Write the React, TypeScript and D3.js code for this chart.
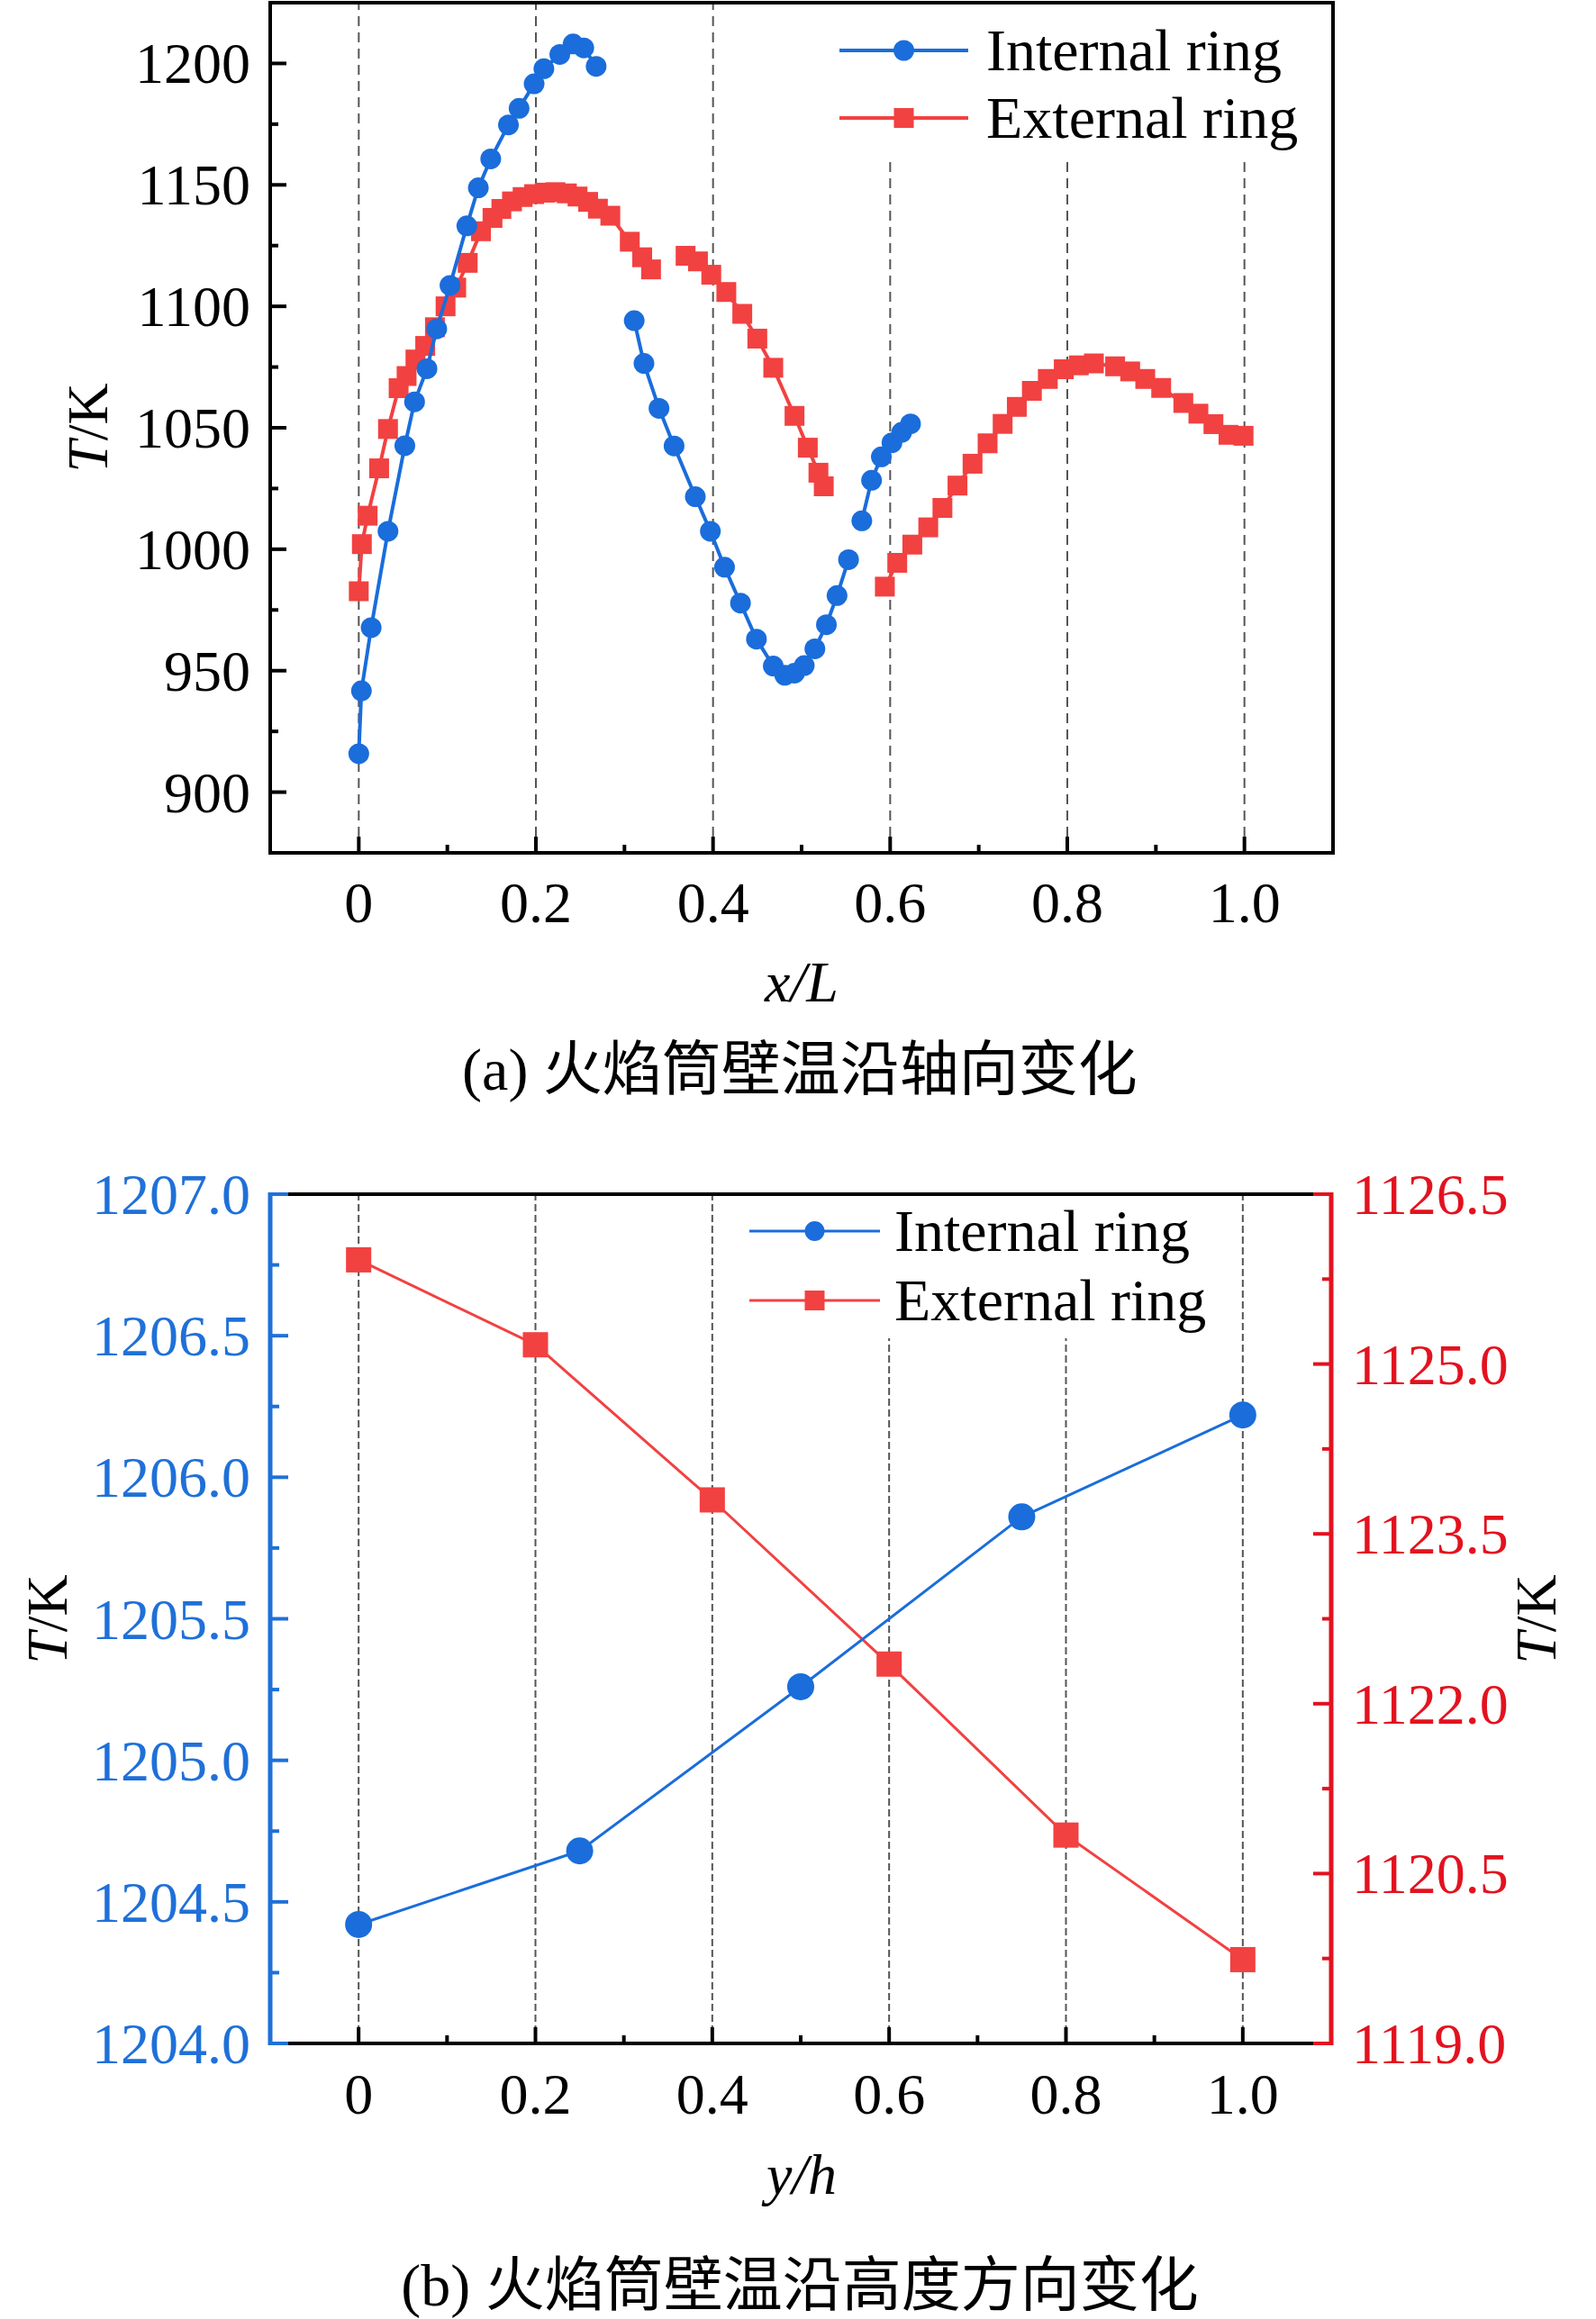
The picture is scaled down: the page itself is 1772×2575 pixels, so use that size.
import React, { useEffect, useRef } from 'react';
import * as d3 from 'd3';

// (a) wall temperature along the axis, NaN = break in the curve
const axialInternalX = [0.000, 0.003, 0.014, 0.033, 0.052, 0.063, 0.077, 0.088, 0.103, 0.122, 0.135, 0.149, 0.169, 0.181, 0.198, 0.209, 0.227, 0.242, 0.254, 0.268, NaN, 0.311, 0.322, 0.339, 0.356, 0.380, 0.397, 0.413, 0.431, 0.449, 0.468, 0.481, 0.492, 0.503, 0.515, 0.528, 0.540, 0.553, NaN, 0.568, 0.579, 0.590, 0.602, 0.613, 0.623];
const axialInternalT = [915.8, 941.7, 967.7, 1007.4, 1042.6, 1060.7, 1074.3, 1090.7, 1108.6, 1133.1, 1148.8, 1160.7, 1174.7, 1181.5, 1191.6, 1197.8, 1203.7, 1208.0, 1206.4, 1198.8, NaN, 1094.1, 1076.5, 1058.0, 1042.5, 1021.6, 1007.4, 992.6, 977.8, 963.0, 951.9, 948.1, 949.0, 952.1, 959.0, 968.9, 980.9, 995.7, NaN, 1011.7, 1028.4, 1038.0, 1043.8, 1048.1, 1051.6];

const axialExternalX = [0.000, 0.0035, 0.010, 0.023, 0.033, 0.045, 0.054, 0.064, 0.075, 0.086, 0.098, 0.110, 0.123, 0.138, 0.151, 0.161, 0.173, 0.185, 0.198, 0.210, 0.222, 0.235, 0.247, 0.259, 0.270, 0.284, 0.306, 0.320, 0.330, NaN, 0.369, 0.383, 0.398, 0.415, 0.433, 0.450, 0.468, 0.492, 0.507, 0.519, 0.525, NaN, 0.594, 0.608, 0.625, 0.643, 0.659, 0.676, 0.693, 0.710, 0.727, 0.743, 0.760, 0.778, 0.796, 0.813, 0.830, 0.854, 0.871, 0.888, 0.906, 0.931, 0.948, 0.965, 0.982, 0.999];
const axialExternalT = [982.7, 1002.1, 1013.8, 1033.3, 1049.5, 1066.3, 1071.3, 1078.1, 1083.7, 1091.4, 1100.0, 1107.7, 1117.9, 1130.9, 1136.4, 1140.1, 1143.2, 1145.0, 1146.2, 1146.8, 1147.0, 1146.5, 1145.2, 1143.0, 1140.2, 1137.3, 1126.6, 1120.2, 1115.2, NaN, 1120.8, 1118.5, 1113.0, 1105.9, 1096.9, 1086.7, 1074.7, 1054.9, 1041.8, 1031.5, 1025.9, NaN, 984.6, 994.4, 1001.9, 1009.0, 1017.0, 1026.2, 1035.2, 1043.6, 1051.6, 1058.6, 1065.2, 1070.1, 1074.1, 1075.7, 1076.5, 1075.3, 1073.2, 1070.1, 1066.4, 1060.2, 1055.8, 1051.5, 1047.1, 1046.7];

// (b) wall temperature along the height
const heightInternalY = [0, 0.25, 0.5, 0.75, 1.0];
const heightInternalT = [1204.42, 1204.68, 1205.26, 1205.86, 1206.22];
const heightExternalY = [0, 0.2, 0.4, 0.6, 0.8, 1.0];
const heightExternalT = [1125.92, 1125.17, 1123.80, 1122.35, 1120.84, 1119.74];

const seriesNames = ['Internal ring', 'External ring'];
const xTicks = [0, 0.2, 0.4, 0.6, 0.8, 1.0];
const xTickLabels = ['0', '0.2', '0.4', '0.6', '0.8', '1.0'];
const xMinorTicks = [0.1, 0.3, 0.5, 0.7, 0.9];
const topTTicks = [900, 950, 1000, 1050, 1100, 1150, 1200];
const topTMinor = [925, 975, 1025, 1075, 1125, 1175];
const leftTTicks = [1204.0, 1204.5, 1205.0, 1205.5, 1206.0, 1206.5, 1207.0];
const leftTMinor = [1204.25, 1204.75, 1205.25, 1205.75, 1206.25, 1206.75];
const rightTTicks = [1119.0, 1120.5, 1122.0, 1123.5, 1125.0, 1126.5];
const rightTMinor = [1119.75, 1121.25, 1122.75, 1124.25, 1125.75];

const BLUE = '#1a6ddb';
const RED = '#f24141';
const AXIS_BLUE = '#1f70d8';
const AXIS_RED = '#e3121f';
const GRID = '#555';
const SERIF = '"Liberation Serif", "Times New Roman", serif';
const CAPTION_FONT = '"Liberation Serif", "Noto Sans CJK SC", serif';

export default function App() {
  const svgRef = useRef<SVGSVGElement>(null);

  useEffect(() => {
    if (!svgRef.current) return;
    const svg = d3.select(svgRef.current);
    svg.selectAll('*').remove();

    svg.append('rect').attr('width', 1772).attr('height', 2575).attr('fill', '#fff');

    const zip = (xs: number[], ys: number[]) => xs.map((v, i) => [v, ys[i]] as [number, number]);

    const drawSeries = (g: any, x: any, y: any, pts: [number, number][], color: string, shape: string, size: number, width: number) => {
      const line = d3.line<[number, number]>()
        .defined(d => !isNaN(d[0]) && !isNaN(d[1]))
        .x(d => x(d[0]))
        .y(d => y(d[1]));
      g.append('path')
        .attr('d', line(pts))
        .attr('fill', 'none')
        .attr('stroke', color)
        .attr('stroke-width', width)
        .attr('stroke-linejoin', 'round');
      const valid = pts.filter(d => !isNaN(d[0]) && !isNaN(d[1]));
      if (shape === 'circle') {
        g.selectAll(null).data(valid).enter().append('circle')
          .attr('cx', (d: any) => x(d[0]))
          .attr('cy', (d: any) => y(d[1]))
          .attr('r', size)
          .attr('fill', color);
      } else {
        g.selectAll(null).data(valid).enter().append('rect')
          .attr('x', (d: any) => x(d[0]) - size / 2)
          .attr('y', (d: any) => y(d[1]) - size / 2)
          .attr('width', size)
          .attr('height', size)
          .attr('fill', color);
      }
    };

    const drawLegend = (g: any, x0: number, x1: number, rows: number[], textX: number, markR: number, markS: number, width: number) => {
      const mid = (x0 + x1) / 2;
      [BLUE, RED].forEach((c, i) => {
        g.append('line').attr('x1', x0).attr('x2', x1).attr('y1', rows[i]).attr('y2', rows[i])
          .attr('stroke', c).attr('stroke-width', width);
        if (i === 0) {
          g.append('circle').attr('cx', mid).attr('cy', rows[i]).attr('r', markR).attr('fill', c);
        } else {
          g.append('rect').attr('x', mid - markS / 2).attr('y', rows[i] - markS / 2)
            .attr('width', markS).attr('height', markS).attr('fill', c);
        }
        g.append('text').attr('x', textX).attr('y', rows[i] + 22)
          .style('font-family', SERIF).style('font-size', '66px').attr('fill', '#000')
          .text(seriesNames[i]);
      });
    };

    const tLabel = (g: any, cx: number, cy: number) => {
      const t = g.append('text')
        .attr('transform', `translate(${cx},${cy}) rotate(-90)`)
        .attr('text-anchor', 'middle')
        .attr('dy', '0.35em')
        .style('font-family', SERIF)
        .style('font-size', '64px')
        .attr('fill', '#000');
      t.append('tspan').style('font-style', 'italic').text('T');
      t.append('tspan').text('/K');
    };

    // ---------- (a) axial ----------
    const xa = d3.scaleLinear().domain([-0.1, 1.1]).range([300, 1480]);
    const ya = d3.scaleLinear().domain([875, 1225]).range([947, 3]);
    const ga = svg.append('g');

    ga.selectAll(null).data(xTicks).enter().append('line')
      .attr('x1', d => xa(d)).attr('x2', d => xa(d))
      .attr('y1', ya(875)).attr('y2', ya(1225))
      .attr('stroke', GRID).attr('stroke-width', 2).attr('stroke-dasharray', '11,7');
    ga.append('rect').attr('x', 925).attr('y', 5).attr('width', 552).attr('height', 173).attr('fill', '#fff');

    drawSeries(ga, xa, ya, zip(axialExternalX, axialExternalT), RED, 'square', 22, 4);
    drawSeries(ga, xa, ya, zip(axialInternalX, axialInternalT), BLUE, 'circle', 11.5, 4);

    // frame
    ga.append('rect').attr('x', 300).attr('y', 3).attr('width', 1180).attr('height', 944)
      .attr('fill', 'none').attr('stroke', '#000').attr('stroke-width', 4);

    // ticks (inward)
    ga.selectAll(null).data(topTTicks).enter().append('line')
      .attr('x1', 300).attr('x2', 318).attr('y1', d => ya(d)).attr('y2', d => ya(d))
      .attr('stroke', '#000').attr('stroke-width', 4);
    ga.selectAll(null).data(topTMinor).enter().append('line')
      .attr('x1', 300).attr('x2', 309).attr('y1', d => ya(d)).attr('y2', d => ya(d))
      .attr('stroke', '#000').attr('stroke-width', 4);
    ga.selectAll(null).data(xTicks).enter().append('line')
      .attr('x1', d => xa(d)).attr('x2', d => xa(d)).attr('y1', 947).attr('y2', 929)
      .attr('stroke', '#000').attr('stroke-width', 4);
    ga.selectAll(null).data(xMinorTicks).enter().append('line')
      .attr('x1', d => xa(d)).attr('x2', d => xa(d)).attr('y1', 947).attr('y2', 938)
      .attr('stroke', '#000').attr('stroke-width', 4);

    ga.selectAll(null).data(topTTicks).enter().append('text')
      .attr('x', 278).attr('y', d => ya(d) + 22).attr('text-anchor', 'end')
      .style('font-family', SERIF).style('font-size', '64px').attr('fill', '#000')
      .text(d => String(d));
    ga.selectAll(null).data(xTicks).enter().append('text')
      .attr('x', d => xa(d)).attr('y', 1024).attr('text-anchor', 'middle')
      .style('font-family', SERIF).style('font-size', '64px').attr('fill', '#000')
      .text((d, i) => xTickLabels[i]);

    ga.append('text').attr('x', 890).attr('y', 1112).attr('text-anchor', 'middle')
      .style('font-family', SERIF).style('font-size', '64px').style('font-style', 'italic')
      .attr('fill', '#000').text('x/L');
    tLabel(ga, 97, 475);

    drawLegend(ga, 932, 1075, [56, 131], 1095, 11.5, 22, 4);

    ga.append('text').attr('x', 888).attr('y', 1210).attr('text-anchor', 'middle')
      .style('font-family', CAPTION_FONT).style('font-size', '66px').attr('fill', '#000')
      .text('(a) 火焰筒壁温沿轴向变化');

    // ---------- (b) height ----------
    const xb = d3.scaleLinear().domain([-0.1, 1.1]).range([300, 1478]);
    const yl = d3.scaleLinear().domain([1204, 1207]).range([2269, 1326]);
    const yr = d3.scaleLinear().domain([1119, 1126.5]).range([2269, 1326]);
    const gb = svg.append('g');

    gb.selectAll(null).data(xTicks).enter().append('line')
      .attr('x1', d => xb(d)).attr('x2', d => xb(d))
      .attr('y1', 2269).attr('y2', 1326)
      .attr('stroke', GRID).attr('stroke-width', 2).attr('stroke-dasharray', '8,4');
    gb.append('rect').attr('x', 820).attr('y', 1328).attr('width', 532).attr('height', 158).attr('fill', '#fff');

    drawSeries(gb, xb, yr, zip(heightExternalY, heightExternalT), RED, 'square', 28, 3);
    drawSeries(gb, xb, yl, zip(heightInternalY, heightInternalT), BLUE, 'circle', 15, 3);

    gb.append('line').attr('x1', 300).attr('x2', 1478).attr('y1', 1326).attr('y2', 1326)
      .attr('stroke', '#000').attr('stroke-width', 4);
    gb.append('line').attr('x1', 300).attr('x2', 1478).attr('y1', 2269).attr('y2', 2269)
      .attr('stroke', '#000').attr('stroke-width', 4);
    gb.append('line').attr('x1', 300).attr('x2', 300).attr('y1', 1324).attr('y2', 2271)
      .attr('stroke', AXIS_BLUE).attr('stroke-width', 5);
    gb.append('line').attr('x1', 1478).attr('x2', 1478).attr('y1', 1324).attr('y2', 2271)
      .attr('stroke', AXIS_RED).attr('stroke-width', 5);

    gb.selectAll(null).data(leftTTicks).enter().append('line')
      .attr('x1', 300).attr('x2', 320).attr('y1', d => yl(d)).attr('y2', d => yl(d))
      .attr('stroke', AXIS_BLUE).attr('stroke-width', 4);
    gb.selectAll(null).data(leftTMinor).enter().append('line')
      .attr('x1', 300).attr('x2', 310).attr('y1', d => yl(d)).attr('y2', d => yl(d))
      .attr('stroke', AXIS_BLUE).attr('stroke-width', 4);
    gb.selectAll(null).data(rightTTicks).enter().append('line')
      .attr('x1', 1478).attr('x2', 1458).attr('y1', d => yr(d)).attr('y2', d => yr(d))
      .attr('stroke', AXIS_RED).attr('stroke-width', 4);
    gb.selectAll(null).data(rightTMinor).enter().append('line')
      .attr('x1', 1478).attr('x2', 1468).attr('y1', d => yr(d)).attr('y2', d => yr(d))
      .attr('stroke', AXIS_RED).attr('stroke-width', 4);
    gb.selectAll(null).data(xTicks).enter().append('line')
      .attr('x1', d => xb(d)).attr('x2', d => xb(d)).attr('y1', 2269).attr('y2', 2251)
      .attr('stroke', '#000').attr('stroke-width', 4);
    gb.selectAll(null).data(xMinorTicks).enter().append('line')
      .attr('x1', d => xb(d)).attr('x2', d => xb(d)).attr('y1', 2269).attr('y2', 2260)
      .attr('stroke', '#000').attr('stroke-width', 4);

    gb.selectAll(null).data(leftTTicks).enter().append('text')
      .attr('x', 278).attr('y', d => yl(d) + 22).attr('text-anchor', 'end')
      .style('font-family', SERIF).style('font-size', '64px').attr('fill', AXIS_BLUE)
      .text(d => d.toFixed(1));
    gb.selectAll(null).data(rightTTicks).enter().append('text')
      .attr('x', 1501).attr('y', d => yr(d) + 22).attr('text-anchor', 'start')
      .style('font-family', SERIF).style('font-size', '64px').attr('fill', AXIS_RED)
      .text(d => d.toFixed(1));
    gb.selectAll(null).data(xTicks).enter().append('text')
      .attr('x', d => xb(d)).attr('y', 2347).attr('text-anchor', 'middle')
      .style('font-family', SERIF).style('font-size', '64px').attr('fill', '#000')
      .text((d, i) => xTickLabels[i]);

    gb.append('text').attr('x', 890).attr('y', 2436).attr('text-anchor', 'middle')
      .style('font-family', SERIF).style('font-size', '64px').style('font-style', 'italic')
      .attr('fill', '#000').text('y/h');
    tLabel(gb, 52, 1798);
    tLabel(gb, 1705, 1798);

    drawLegend(gb, 832, 977, [1367, 1444], 993, 11, 22, 3);

    gb.append('text').attr('x', 888).attr('y', 2560).attr('text-anchor', 'middle')
      .style('font-family', CAPTION_FONT).style('font-size', '66px').attr('fill', '#000')
      .text('(b) 火焰筒壁温沿高度方向变化');
  }, []);

  return (
    <svg
      ref={svgRef}
      width={1772}
      height={2575}
      style={{ position: 'absolute', left: 0, top: 0, display: 'block' }}
    />
  );
}
